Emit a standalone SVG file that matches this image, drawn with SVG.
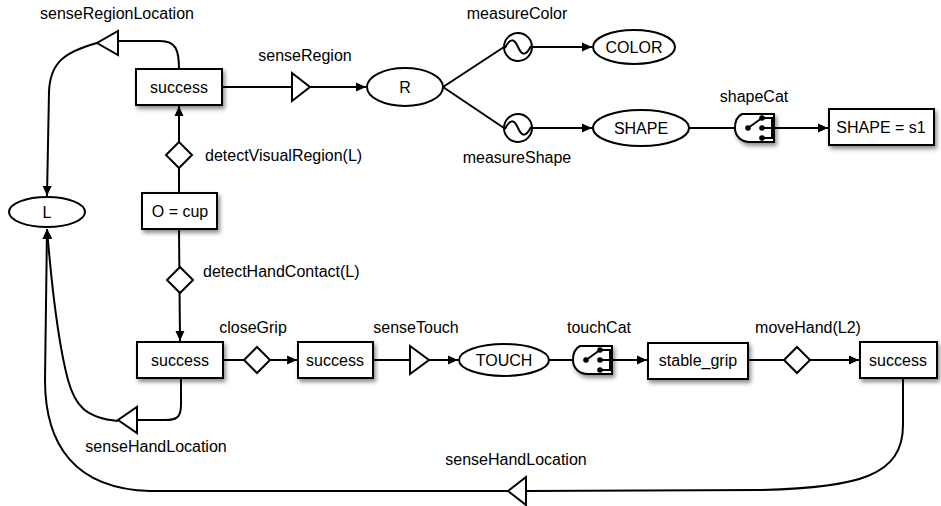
<svg xmlns="http://www.w3.org/2000/svg" width="941" height="506" viewBox="0 0 941 506">
<defs>
<marker id="arr" viewBox="0 0 10 10" refX="10" refY="5" markerWidth="10" markerHeight="10" markerUnits="userSpaceOnUse" orient="auto">
<path d="M0,0.5 L10,5 L0,9.5 Z" fill="#000"/>
</marker>
<filter id="sh" x="-20%" y="-20%" width="150%" height="160%">
<feDropShadow dx="2" dy="3" stdDeviation="2" flood-color="#000" flood-opacity="0.45"/>
</filter>
<g id="cat">
<path d="M7,0 L39,0 L39,28 L15,28 C6,28 0,22 0,14 C0,7 3,2 7,0 Z" fill="#fff" stroke="#000" stroke-width="2"/>
<line x1="13" y1="14" x2="27" y2="4" stroke="#000" stroke-width="2"/>
<path d="M27,4 H37 M27,14 H37 M27,24 H37 M37,3 V25" stroke="#000" stroke-width="2" fill="none"/>
<circle cx="13" cy="14" r="2.8" fill="#000"/>
<circle cx="27" cy="4" r="2.8" fill="#000"/>
<circle cx="27" cy="14" r="2.8" fill="#000"/>
<circle cx="27" cy="24" r="2.8" fill="#000"/>
</g>
</defs>
<style>
text{font-family:"Liberation Sans",Arial,sans-serif;font-size:16px;fill:#000}
.c{text-anchor:middle}
.box{fill:#fff;stroke:#000;stroke-width:2;filter:url(#sh)}
.ell{fill:#fff;stroke:#000;stroke-width:2}
.dia{fill:#fff;stroke:#000;stroke-width:2}
.tri{fill:#fff;stroke:#000;stroke-width:2;stroke-linejoin:miter}
.ln{fill:none;stroke:#000;stroke-width:2}
</style>
<rect width="941" height="506" fill="#fff"/>
<g id="connectors">
<path class="ln" d="M179,193 L179,106" marker-end="url(#arr)"/>
<path class="ln" d="M179,69 C179,50 176,41 160,41 L118,41"/>
<path class="ln" d="M97,43 C65,52 50,62 49,92 L47,196" marker-end="url(#arr)"/>
<path class="ln" d="M222,87 L292,87"/>
<path class="ln" d="M310,87 L366,87" marker-end="url(#arr)"/>
<path class="ln" d="M443,87 L504,47"/>
<path class="ln" d="M443,87 L504,128"/>
<path class="ln" d="M532,47 L592,47" marker-end="url(#arr)"/>
<path class="ln" d="M532,128 L592,128" marker-end="url(#arr)"/>
<path class="ln" d="M690,128 L735,128"/>
<path class="ln" d="M774,128 L828,128" marker-end="url(#arr)"/>
<path class="ln" d="M179,229 L180,341" marker-end="url(#arr)"/>
<path class="ln" d="M223,360 L297,360" marker-end="url(#arr)"/>
<path class="ln" d="M373,360 L410,360"/>
<path class="ln" d="M429,360 L458,360" marker-end="url(#arr)"/>
<path class="ln" d="M549,360 L573,360"/>
<path class="ln" d="M612,360 L647,360" marker-end="url(#arr)"/>
<path class="ln" d="M748,360 L859,360" marker-end="url(#arr)"/>
<path class="ln" d="M903,378 L903,425 C903,475 860,488 760,490 L526,491"/>
<path class="ln" d="M508,491 L150,491 C75,489 45,445 45,380 L47,229" marker-end="url(#arr)"/>
<path class="ln" d="M181,378 L181,405 C181,418 176,420 165,420 L137,420"/>
<path class="ln" d="M118,421 C85,418 75,405 68,380 C60,350 52,290 47,229" marker-end="url(#arr)"/>
</g>
<g id="node-success1"><rect class="box" x="136" y="69" width="86" height="36"/><text class="c" x="179" y="93">success</text></g>
<g id="node-senseRegionLocation"><path class="tri" d="M118,31 L118,55 L97,43 Z"/><text class="c" x="117" y="19">senseRegionLocation</text></g>
<g id="node-L"><ellipse class="ell" cx="47" cy="212" rx="38" ry="15"/><text class="c" x="47" y="218">L</text></g>
<g id="node-detectVisualRegion"><path class="dia" d="M179,142 L192,155 L179,168 L166,155 Z"/><text x="205" y="161">detectVisualRegion(L)</text></g>
<g id="node-ocup"><rect class="box" x="142" y="193" width="75" height="36"/><text class="c" x="180" y="217">O = cup</text></g>
<g id="node-senseRegion"><path class="tri" d="M292,73 L292,101 L310,87 Z"/><text class="c" x="305" y="61">senseRegion</text></g>
<g id="node-R"><ellipse class="ell" cx="405" cy="87" rx="38" ry="19"/><text class="c" x="405" y="93">R</text></g>
<g id="node-measureColor"><circle class="ell" cx="518" cy="47" r="14"/><path class="ln" d="M505,48 C510,38 514,38 518,47 C522,56 526,56 531,46" stroke-width="1.6"/><text class="c" x="517" y="19">measureColor</text></g>
<g id="node-measureShape"><circle class="ell" cx="518" cy="128" r="14"/><path class="ln" d="M505,129 C510,119 514,119 518,128 C522,137 526,137 531,127" stroke-width="1.6"/><text class="c" x="517" y="163">measureShape</text></g>
<g id="node-COLOR"><ellipse class="ell" cx="634" cy="47" rx="41" ry="17"/><text class="c" x="634" y="53">COLOR</text></g>
<g id="node-SHAPE"><ellipse class="ell" cx="641" cy="128" rx="48" ry="18"/><text class="c" x="641" y="134">SHAPE</text></g>
<g id="node-shapeCat"><use href="#cat" x="735" y="114" filter="url(#sh)"/><text class="c" x="754" y="102">shapeCat</text></g>
<g id="node-shapeS1"><rect class="box" x="829" y="109" width="105" height="36"/><text class="c" x="881" y="133">SHAPE = s1</text></g>
<g id="node-detectHandContact"><path class="dia" d="M180,267 L193,280 L180,293 L167,280 Z"/><text x="203" y="277">detectHandContact(L)</text></g>
<g id="node-success2"><rect class="box" x="137" y="342" width="86" height="36"/><text class="c" x="180" y="366">success</text></g>
<g id="node-closeGrip"><path class="dia" d="M257,347 L270,360 L257,373 L244,360 Z"/><text class="c" x="253" y="333">closeGrip</text></g>
<g id="node-success3"><rect class="box" x="298" y="342" width="75" height="36"/><text class="c" x="335" y="366">success</text></g>
<g id="node-senseTouch"><path class="tri" d="M410,346 L410,374 L429,360 Z"/><text class="c" x="416" y="333">senseTouch</text></g>
<g id="node-TOUCH"><ellipse class="ell" cx="504" cy="360" rx="45" ry="16"/><text class="c" x="504" y="366">TOUCH</text></g>
<g id="node-touchCat"><use href="#cat" x="573" y="346" filter="url(#sh)"/><text class="c" x="599" y="333">touchCat</text></g>
<g id="node-stableGrip"><rect class="box" x="648" y="343" width="100" height="36"/><text class="c" x="698" y="366">stable_grip</text></g>
<g id="node-moveHand"><path class="dia" d="M797,347 L810,360 L797,373 L784,360 Z"/><text class="c" x="808" y="333">moveHand(L2)</text></g>
<g id="node-success4"><rect class="box" x="860" y="342" width="77" height="36"/><text class="c" x="898" y="366">success</text></g>
<g id="node-senseHandLocation1"><path class="tri" d="M137,407 L137,433 L118,420 Z"/><text class="c" x="156" y="452">senseHandLocation</text></g>
<g id="node-senseHandLocation2"><path class="tri" d="M526,477 L526,505 L508,491 Z"/><text class="c" x="516" y="465">senseHandLocation</text></g>
</svg>
